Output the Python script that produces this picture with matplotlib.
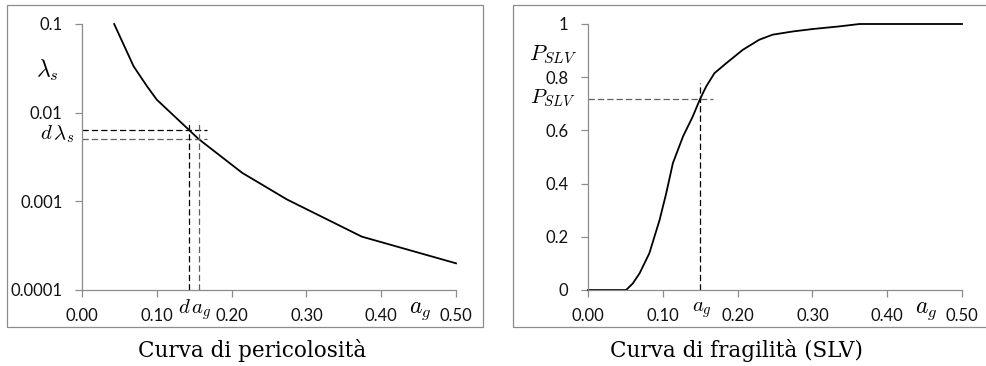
import matplotlib.pyplot as plt
from matplotlib.patches import Rectangle
from matplotlib.ticker import FixedLocator, NullLocator

plt.rcParams['font.family'] = ['Lato', 'DejaVu Sans']
plt.rcParams['mathtext.fontset'] = 'cm'

# hazard curve (log scale)
ag_haz = [0.043, 0.069, 0.087, 0.100, 0.1425, 0.1558, 0.214, 0.274, 0.374, 0.50]
lam_haz = [0.1, 0.0333, 0.0198, 0.0140, 0.00645, 0.00505, 0.0021, 0.00105, 0.0004, 0.0002]

# fragility curve (SLV)
ag_fr = [0.0, 0.051, 0.060, 0.069, 0.082, 0.0957, 0.1046, 0.1135, 0.127, 0.140, 0.150,
         0.158, 0.169, 0.185, 0.207, 0.229, 0.247, 0.274, 0.300, 0.336, 0.363, 0.50]
p_fr = [0.0, 0.0, 0.025, 0.063, 0.138, 0.263, 0.364, 0.477, 0.577, 0.652, 0.719,
        0.765, 0.815, 0.853, 0.903, 0.941, 0.960, 0.972, 0.981, 0.991, 1.0, 1.0]

x_ticks = [0.0, 0.1, 0.2, 0.3, 0.4, 0.5]
x_labels = ['0.00', '0.10', '0.20', '0.30', '0.40', '0.50']
y_ticks_haz = [0.0001, 0.001, 0.01, 0.1]
y_labels_haz = ['0.0001', '0.001', '0.01', '0.1']
y_ticks_fr = [0, 0.2, 0.4, 0.6, 0.8, 1]
y_labels_fr = ['0', '0.2', '0.4', '0.6', '0.8', '1']

# point used for the dashed construction lines
ag1, ag2 = 0.1425, 0.1558
lam1, lam2 = 0.00645, 0.00505
ag_p, p_p = 0.150, 0.719

W, H = 987, 366
fig = plt.figure(figsize=(W / 100, H / 100), dpi=100)

# frames around the two panels
fig.patches.append(Rectangle((7 / W, 1 - 327 / H), 476 / W, 322 / H, transform=fig.transFigure,
                             fill=False, edgecolor='#8c8c8c', lw=0.9))
fig.patches.append(Rectangle((513 / W, 1 - 327 / H), 480 / W, 322 / H, transform=fig.transFigure,
                             fill=False, edgecolor='#8c8c8c', lw=0.9))

axL = fig.add_axes([82 / W, 1 - 290 / H, 374 / W, 266 / H])
axR = fig.add_axes([588 / W, 1 - 290 / H, 374 / W, 266 / H])

grey = '#8c8c8c'
for ax in (axL, axR):
    for s in ('top', 'right'):
        ax.spines[s].set_visible(False)
    for s in ('left', 'bottom'):
        ax.spines[s].set_color(grey)
        ax.spines[s].set_linewidth(0.9)
    ax.tick_params(color=grey, length=5, width=0.9, labelsize=12, colors='black')
    ax.tick_params(axis='x', pad=8)
    ax.tick_params(axis='y', pad=9)
    ax.set_xlim(0, 0.5)
    ax.set_xticks(x_ticks)
    ax.set_xticklabels(x_labels)
    for lab in ax.get_xticklabels() + ax.get_yticklabels():
        lab.set_color('#111111')

# left: hazard curve
axL.set_yscale('log')
axL.set_ylim(0.0001, 0.1)
axL.yaxis.set_major_locator(FixedLocator(y_ticks_haz))
axL.yaxis.set_minor_locator(NullLocator())
axL.set_yticklabels(y_labels_haz)
axL.plot(ag_haz, lam_haz, color='black', lw=1.3, clip_on=False)
axL.plot([0, 0.167], [lam1, lam1], ls=(0, (5, 2.5)), color='black', lw=0.9)
axL.plot([0, 0.167], [lam2, lam2], ls=(0, (5, 2.5)), color='#606060', lw=0.9)
axL.plot([ag1, ag1], [0.0001, 0.008], ls=(0, (5, 2.5)), color='black', lw=0.9)
axL.plot([ag2, ag2], [0.0001, 0.008], ls=(0, (5, 2.5)), color='#606060', lw=0.9)
axL.text(-0.046, 0.03, r'$\lambda_s$', fontsize=17, ha='center', va='center')
axL.text(-0.011, 0.0057, r'$d\,\lambda_s$', fontsize=15, ha='right', va='center')
axL.text(0.151, -0.075, r'$d\,a_g$', fontsize=15, ha='center', va='center',
         transform=axL.get_xaxis_transform())
axL.text(0.452, -0.08, r'$a_g$', fontsize=17, ha='center', va='center',
         transform=axL.get_xaxis_transform())

# right: fragility curve
axR.set_ylim(0, 1)
axR.set_yticks(y_ticks_fr)
axR.set_yticklabels(y_labels_fr)
axR.plot(ag_fr, p_fr, color='black', lw=1.3, clip_on=False)
axR.plot([0, 0.167], [p_p, p_p], ls=(0, (5, 2.5)), color='#606060', lw=0.9)
axR.plot([ag_p, ag_p], [0, 0.778], ls=(0, (5, 2.5)), color='black', lw=0.9)
axR.text(-0.047, 0.885, r'$P_{SLV}$', fontsize=16, ha='center', va='center')
axR.text(-0.047, 0.72, r'$P_{SLV}$', fontsize=15, ha='center', va='center')
axR.text(0.153, -0.075, r'$a_g$', fontsize=15, ha='center', va='center',
         transform=axR.get_xaxis_transform())
axR.text(0.452, -0.08, r'$a_g$', fontsize=17, ha='center', va='center',
         transform=axR.get_xaxis_transform())

fig.text(252 / W, 1 - 350 / H, 'Curva di pericolosità', fontsize=15.5, family='DejaVu Serif',
         ha='center', va='center')
fig.text(737 / W, 1 - 350 / H, 'Curva di fragilità (SLV)', fontsize=15.5, family='DejaVu Serif',
         ha='center', va='center')

fig.savefig('out.png', dpi=100)
